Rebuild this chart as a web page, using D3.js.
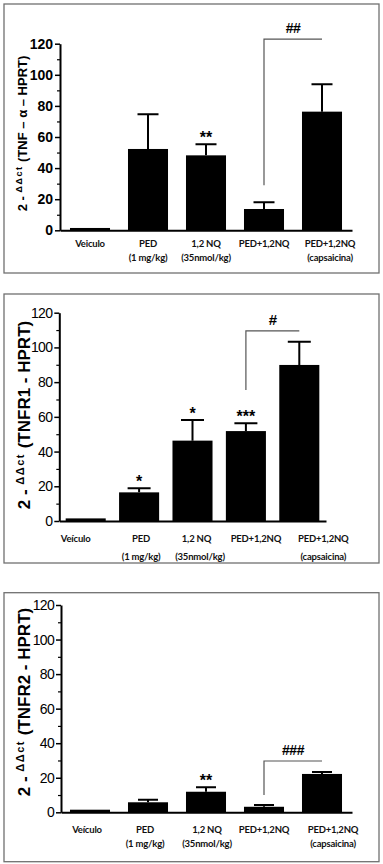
<!DOCTYPE html>
<html><head><meta charset="utf-8">
<script src="https://cdn.jsdelivr.net/npm/d3@7"></script>
<style>body{margin:0;background:#fff} svg{display:block}</style>
</head><body>
<script>
// ---------- data ----------
const labelsP1 = ["Veiculo", "PED", "1,2 NQ", "PED+1,2NQ", "PED+1,2NQ"];
const labelsP23 = ["Veículo", "PED", "1,2 NQ", "PED+1,2NQ", "PED+1,2NQ"];
const subLabels = ["", "(1 mg/kg)", "(35nmol/kg)", "", "(capsaicina)"];
const yTicks = [0, 20, 40, 60, 80, 100, 120];
const yMinorTicks = [10, 30, 50, 70, 90, 110];

const tnfaMean = [1.5, 52.3, 48.2, 13.7, 76.3];
const tnfaSem = [0, 22.3, 7.1, 4.3, 17.6];
const tnfaStars = ["", "", "**", "", ""];
const tnfaBracket = {from: 3, to: 4, top: 123, drop: 29, label: "##"};

const tnfr1Mean = [1.5, 16.5, 46.3, 51.8, 89.9];
const tnfr1Sem = [0, 2.3, 11.9, 4.5, 13.4];
const tnfr1Stars = ["", "*", "*", "***", ""];
const tnfr1Bracket = {from: 3, to: 4, top: 109.5, drop: 75.5, label: "#"};

const tnfr2Mean = [1.5, 5.8, 11.9, 3.2, 22.2];
const tnfr2Sem = [0, 1.5, 2.6, 1.0, 1.1];
const tnfr2Stars = ["", "", "**", "", ""];
const tnfr2Bracket = {from: 3, to: 4, top: 29.7, drop: 10, label: "###"};

// ---------- layout ----------
const W = 383, H = 864;
const fontA = "'Liberation Sans', Arial, Helvetica, sans-serif";
const fontB = "Lato, 'Open Sans', 'Liberation Sans', sans-serif";

const panels = [
  {mean: tnfaMean, sem: tnfaSem, stars: tnfaStars, bracket: tnfaBracket, labels: labelsP1,
   ylab: "(TNF – α – HPRT)", box: [4, 4, 375, 269], ax: 60, axEnd: 352, y0: 230.3, yTop: 43.7,
   band: [61, 351], pi: 0.31, po: 0.155, ylabCenter: 133.5, ylabBase: 27, ylabSize: 13, supSize: 9,
   tickWeight: "bold", tickLS: 0, xlabBase: [247, 260.5], capW: 21, hashSize: 14,
   shift1: [0, 0, 0, 0, 8], shift2: [0, 0, 0, 0, 8]},
  {mean: tnfr1Mean, sem: tnfr1Sem, stars: tnfr1Stars, bracket: tnfr1Bracket, labels: labelsP23,
   ylab: "(TNFR1 - HPRT)", box: [4, 294, 375, 269], ax: 59.3, axEnd: 326, y0: 521, yTop: 312.7,
   band: [59, 326], pi: 0.25, po: 0.125, ylabCenter: 415, ylabBase: 30, ylabSize: 17, supSize: 11,
   tickWeight: "normal", tickLS: -0.7, xlabBase: [542, 560], capW: 23, hashSize: 15,
   shift1: [-10, 2, 4, 10, 24], shift2: [0, 2, 7.5, 0, 24]},
  {mean: tnfr2Mean, sem: tnfr2Sem, stars: tnfr2Stars, bracket: tnfr2Bracket, labels: labelsP23,
   ylab: "(TNFR2 - HPRT)", box: [4, 592.7, 375, 269], ax: 61, axEnd: 352, y0: 812.3, yTop: 605,
   band: [61, 351], pi: 0.31, po: 0.155, ylabCenter: 702, ylabBase: 30, ylabSize: 17, supSize: 11,
   tickWeight: "normal", tickLS: -0.7, xlabBase: [833, 847], capW: 20, hashSize: 14,
   shift1: [-3, -3, 1, 0, 11], shift2: [0, -3, 1, 0, 11]}
];

const svg = d3.select("body").append("svg").attr("width", W).attr("height", H);

panels.forEach(p => {
  const g = svg.append("g");
  g.append("rect").attr("x", p.box[0]).attr("y", p.box[1]).attr("width", p.box[2]).attr("height", p.box[3])
    .attr("fill", "none").attr("stroke", "#707070").attr("stroke-width", 1.3);

  const idx = d3.range(p.mean.length);
  const x = d3.scaleBand().domain(idx).range(p.band).paddingInner(p.pi).paddingOuter(p.po);
  const y = d3.scaleLinear().domain([0, 120]).range([p.y0, p.yTop]);

  // bars
  g.selectAll(".bar").data(idx).join("rect")
    .attr("x", i => x(i)).attr("width", x.bandwidth())
    .attr("y", i => y(p.mean[i])).attr("height", i => y(0) - y(p.mean[i]))
    .attr("fill", "#000");

  // error bars
  const eb = idx.filter(i => p.sem[i] > 0);
  g.selectAll(".err").data(eb).join("path")
    .attr("d", i => {
      const cx = x(i) + x.bandwidth() / 2, top = y(p.mean[i] + p.sem[i]);
      return `M${cx},${y(p.mean[i])}V${top}M${cx - p.capW / 2},${top}H${cx + p.capW / 2}`;
    })
    .attr("stroke", "#000").attr("stroke-width", 2).attr("fill", "none");

  // stars
  g.selectAll(".star").data(idx.filter(i => p.stars[i])).join("text")
    .attr("x", i => x(i) + x.bandwidth() / 2)
    .attr("y", i => y(p.mean[i] + p.sem[i]) - 1)
    .attr("text-anchor", "middle").attr("font-family", fontA).attr("font-weight", "bold")
    .attr("font-size", 16).text(i => p.stars[i]);

  // bracket
  const b = p.bracket;
  const xl = x(b.from) + x.bandwidth() / 2, xr = x(b.to) + x.bandwidth() / 2;
  g.append("path").attr("d", `M${xl},${y(b.drop)}V${y(b.top)}H${xr}`)
    .attr("fill", "none").attr("stroke", "#555").attr("stroke-width", 1.2);
  g.append("text").attr("x", (xl + xr) / 2).attr("y", y(b.top) - 6)
    .attr("text-anchor", "middle").attr("font-family", fontA).attr("font-weight", "bold")
    .attr("font-size", p.hashSize).attr("letter-spacing", -0.5).text(b.label);

  // y axis
  const yAxis = g.append("g").attr("transform", `translate(${p.ax},0)`)
    .call(d3.axisLeft(y).tickValues(yTicks).tickSize(5).tickSizeOuter(0).tickPadding(2));
  yAxis.select(".domain").attr("stroke-width", 2);
  yAxis.selectAll(".tick line").attr("stroke-width", 1.5);
  yAxis.selectAll(".tick text").attr("font-family", fontA).attr("font-size", 14)
    .attr("font-weight", p.tickWeight).attr("letter-spacing", p.tickLS).attr("fill", "#000");
  const yMinor = g.append("g").attr("transform", `translate(${p.ax},0)`)
    .call(d3.axisLeft(y).tickValues(yMinorTicks).tickSize(3).tickFormat(""));
  yMinor.select(".domain").remove();
  yMinor.selectAll(".tick line").attr("stroke-width", 1.2);

  // x axis
  const xs = d3.scaleLinear().domain([0, 1]).range([p.ax, p.axEnd]);
  const xAxis = g.append("g").attr("transform", `translate(0,${p.y0})`)
    .call(d3.axisBottom(xs).tickValues([]).tickSizeOuter(0));
  xAxis.select(".domain").attr("stroke-width", 2);

  // x labels
  g.selectAll(".xl1").data(idx).join("text")
    .attr("x", i => x(i) + x.bandwidth() / 2 + p.shift1[i]).attr("y", p.xlabBase[0])
    .attr("text-anchor", "middle").attr("font-family", fontB).attr("font-size", 9.5)
    .attr("font-weight", "bold").attr("letter-spacing", -0.2).attr("fill", "#111")
    .text(i => p.labels[i]);
  g.selectAll(".xl2").data(idx.filter(i => subLabels[i])).join("text")
    .attr("x", i => x(i) + x.bandwidth() / 2 + p.shift2[i]).attr("y", p.xlabBase[1])
    .attr("text-anchor", "middle").attr("font-family", fontB).attr("font-size", 9.5)
    .attr("font-weight", "bold").attr("letter-spacing", -0.2).attr("fill", "#111")
    .text(i => subLabels[i]);

  // y label
  const yl = g.append("text")
    .attr("transform", `translate(${p.ylabBase},${p.ylabCenter}) rotate(-90)`)
    .attr("text-anchor", "middle").attr("font-family", fontA).attr("font-weight", "bold")
    .attr("font-size", p.ylabSize).attr("fill", "#000");
  yl.append("tspan").text("2 - ");
  yl.append("tspan").attr("font-size", p.supSize).attr("dy", -p.ylabSize * 0.38)
    .attr("letter-spacing", 1.5).text("ΔΔct");
  yl.append("tspan").attr("dy", p.ylabSize * 0.38).text(" " + p.ylab);
});
</script>
</body></html>
